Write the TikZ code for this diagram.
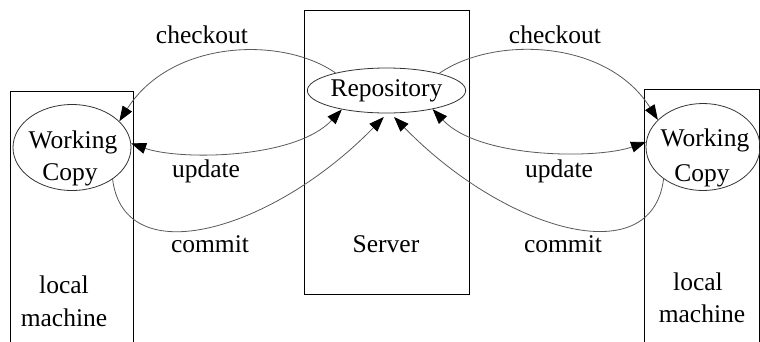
\documentclass[tikz,border=0pt]{standalone}
\usepackage{fontspec}
\setmainfont{Liberation Serif}
\usetikzlibrary{shapes.geometric,arrows.meta}
\begin{document}
\begin{tikzpicture}[x=1pt,y=-1pt,
  box/.style={draw=black,line width=0.9pt},
  ell/.style={draw=black!80,line width=0.8pt,ellipse,inner sep=0pt,
    font=\fontsize{25.5}{33}\selectfont},
  lbl/.style={anchor=base,inner sep=0pt,font=\fontsize{25.5}{33}\selectfont},
  conn/.style={draw=black!65,line width=0.8pt},
  ahead/.tip={Triangle[length=15pt,width=11pt,black]},
  tip/.style={-ahead},
  dtip/.style={ahead-ahead}]
\useasboundingbox (0,0) rectangle (760,341);
% boxes
\draw[box] (10,343) -- (10,91.5) -- (133,91.5) -- (133,343);
\draw[box] (304,10) rectangle (469,294);
\draw[box] (644,343) -- (644,89) -- (759,89) -- (759,343);
% nodes
\node[ell,minimum width=153pt,minimum height=45pt] (repo) at (386.5,90.5) {Repository};
\node[ell,minimum width=118pt,minimum height=86pt] (wcl) at (72,147.5) {};
\node[ell,minimum width=114pt,minimum height=87pt] (wcr) at (703,147) {};
% texts
\node[lbl] (wcl1) at (73,148) {Working};
\node[lbl] (wcl2) at (70,180) {Copy};
\node[lbl] (wcr1) at (705,146) {Working};
\node[lbl] (wcr2) at (702,181) {Copy};
\node[lbl] (co1) at (202,43) {checkout};
\node[lbl] (co2) at (555,43) {checkout};
\node[lbl] (up1) at (206,177) {update};
\node[lbl] (up2) at (559,177) {update};
\node[lbl] (cm1) at (210,252) {commit};
\node[lbl] (cm2) at (563,252) {commit};
\node[lbl] (srv) at (386,252) {Server};
\node[lbl] (lm1a) at (64,293) {local};
\node[lbl] (lm1b) at (64,326) {machine};
\node[lbl] (lm2a) at (698,290) {local};
\node[lbl] (lm2b) at (702,322) {machine};
% connectors left
\draw[conn,tip] (repo.161) .. controls +(-53,-37) and +(52,-82) .. (wcl.29);
\draw[conn,dtip] (wcl.4) .. controls +(48,17) and +(-47,50) .. (repo.203);
\draw[conn,tip,shorten >=5pt] (wcl.-38) .. controls +(12,95) and +(-114,117) .. (repo.272);
% connectors right
\draw[conn,tip] (repo.18) .. controls +(53,-37) and +(-52,-82) .. (wcr.149);
\draw[conn,dtip] (wcr.175) .. controls +(-48,17) and +(47,50) .. (repo.338);
\draw[conn,tip,shorten >=5pt] (wcr.219.5) .. controls +(-12,95) and +(114,117) .. (repo.280);
\end{tikzpicture}
\end{document}
